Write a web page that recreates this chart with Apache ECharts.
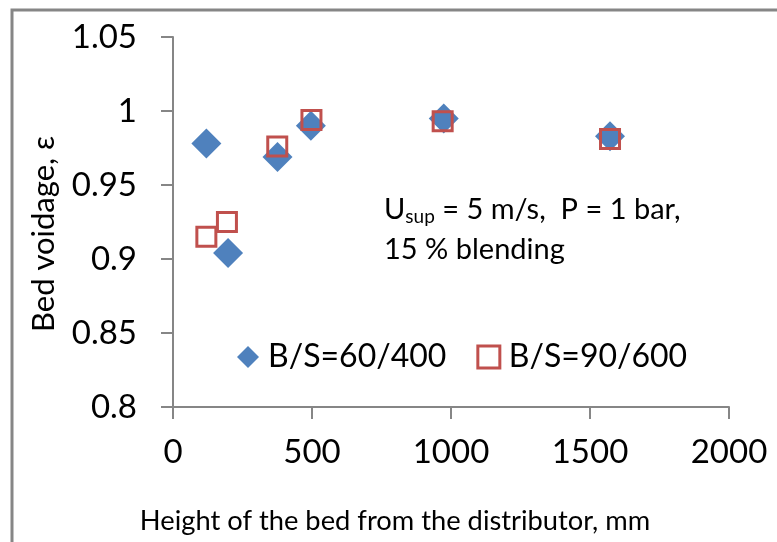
<!DOCTYPE html>
<html><head><meta charset="utf-8">
<script src="https://cdn.jsdelivr.net/npm/echarts@6/dist/echarts.min.js"></script>
<style>html,body{margin:0;padding:0;background:#fff}#c{width:777px;height:542px}</style>
</head><body><div id="c"></div>
<script>
const xTicks = [0, 500, 1000, 1500, 2000];
const yTicks = [0.8, 0.85, 0.9, 0.95, 1, 1.05];
const seriesNames = ['B/S=60/400', 'B/S=90/600'];
const heights60 = [120, 198, 376, 496, 974, 1572];
const voidage60 = [0.978, 0.904, 0.969, 0.990, 0.995, 0.983];
const heights90 = [120, 194, 375, 498, 970, 1572];
const voidage90 = [0.915, 0.925, 0.976, 0.994, 0.993, 0.981];
const xTitle = 'Height of the bed from the distributor, mm';
const yTitle = 'Bed voidage, ε';

const FONT = 'Lato, "Open Sans", sans-serif';
const AX = '#868686';
const chart = echarts.init(document.getElementById('c'), null, {renderer: 'canvas'});
chart.setOption({
  animation: false,
  backgroundColor: '#fff',
  textStyle: {fontFamily: FONT},
  grid: {left: 173, right: 48, top: 37, bottom: 135, containLabel: false},
  xAxis: {
    type: 'value', min: xTicks[0], max: xTicks[xTicks.length - 1], interval: 500,
    axisLine: {onZero: false, lineStyle: {color: AX, width: 2}},
    axisTick: {length: 12, lineStyle: {color: AX, width: 2}},
    splitLine: {show: false},
    axisLabel: {fontSize: 33, color: '#000', margin: 29, fontFamily: FONT,
      formatter: v => String(v)}
  },
  yAxis: {
    type: 'value', min: yTicks[0], max: yTicks[yTicks.length - 1], interval: 0.05,
    axisLine: {show: true, onZero: false, lineStyle: {color: AX, width: 2}},
    axisTick: {show: true, length: 12, lineStyle: {color: AX, width: 2}},
    splitLine: {show: false},
    axisLabel: {fontSize: 33, color: '#000', margin: 36, fontFamily: FONT,
      formatter: v => String(parseFloat(v.toFixed(2)))}
  },
  legend: {
    left: 232, top: 336, itemGap: 30, itemWidth: 22, itemHeight: 22,
    textStyle: {fontSize: 32, color: '#000', fontFamily: FONT, padding: [0, 0, 0, 4]},
    data: [
      {name: seriesNames[0], icon: 'diamond'},
      {name: seriesNames[1], icon: 'rect', itemStyle: {color: 'transparent', borderColor: '#C0504D', borderWidth: 3}}
    ]
  },
  series: [
    {
      name: seriesNames[0], type: 'scatter', symbol: 'diamond', symbolSize: 30,
      itemStyle: {color: '#4F81BD', opacity: 1},
      data: heights60.map((h, i) => [h, voidage60[i]])
    },
    {
      name: seriesNames[1], type: 'scatter', symbol: 'rect', symbolSize: 19,
      itemStyle: {color: 'transparent', borderColor: '#C0504D', borderWidth: 3, opacity: 1},
      data: heights90.map((h, i) => [h, voidage90[i]])
    }
  ],
  graphic: [
    {type: 'polyline', shape: {points: [[12, 542], [12, 10], [777, 10]]},
     style: {stroke: AX, lineWidth: 3, fill: null}},
    {type: 'text', x: 395, y: 508,
     style: {text: xTitle, fontSize: 27.3, fill: '#000', fontFamily: FONT, align: 'center'}},
    {type: 'text', x: 28, y: 234, rotation: Math.PI / 2,
     style: {text: yTitle, fontSize: 31, fill: '#000', fontFamily: FONT, align: 'center', verticalAlign: 'top'}},
    {type: 'text', x: 384, y: 190,
     style: {
       text: 'U{sub|sup} = 5 m/s,  P = 1 bar,\n15 % blending',
       fontSize: 29, fill: '#000', fontFamily: FONT, lineHeight: 40,
       rich: {sub: {fontSize: 19, fontFamily: FONT, fill: '#000', padding: [14, 0, 0, 0]}}
     }}
  ]
});
</script></body></html>
